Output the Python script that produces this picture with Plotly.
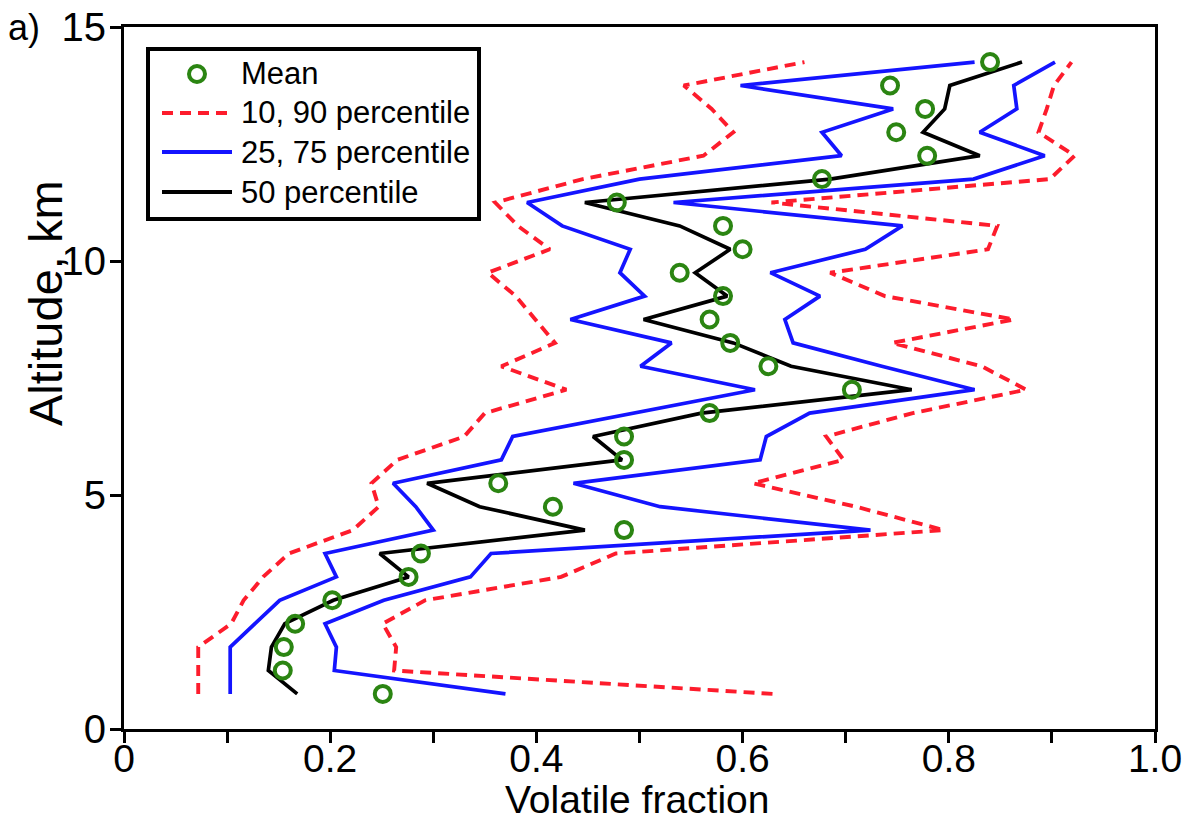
import plotly.graph_objects as go

# ---------------- data ----------------
altitude_km = [0.75, 1.25, 1.75, 2.25, 2.75, 3.25, 3.75, 4.25, 4.75, 5.25,
               5.75, 6.25, 6.75, 7.25, 7.75, 8.25, 8.75, 9.25, 9.75, 10.25,
               10.75, 11.25, 11.75, 12.25, 12.75, 13.25, 13.75, 14.25]

mean_vf = [0.251, 0.154, 0.155, 0.166, 0.202, 0.276, 0.288, 0.485, 0.416, 0.363,
           0.485, 0.485, 0.568, 0.706, 0.625, 0.588, 0.568, 0.581, 0.539, 0.600,
           0.581, 0.478, 0.677, 0.779, 0.749, 0.777, 0.743, 0.840]

p10 = [0.072, 0.072, 0.072, 0.104, 0.116, 0.135, 0.160, 0.222, 0.247, 0.240,
       0.265, 0.330, 0.350, 0.429, 0.366, 0.418, 0.399, 0.380, 0.353, 0.413,
       0.382, 0.360, 0.445, 0.562, 0.591, 0.570, 0.543, 0.660]

p90 = [0.629, 0.262, 0.264, 0.251, 0.292, 0.424, 0.477, 0.795, 0.710, 0.610,
       0.698, 0.681, 0.765, 0.875, 0.832, 0.745, 0.863, 0.738, 0.685, 0.838,
       0.847, 0.628, 0.898, 0.922, 0.887, 0.895, 0.902, 0.919]

p25 = [0.103, 0.103, 0.103, 0.127, 0.151, 0.206, 0.195, 0.300, 0.283, 0.261,
       0.366, 0.377, 0.495, 0.612, 0.501, 0.531, 0.433, 0.505, 0.481, 0.491,
       0.425, 0.391, 0.500, 0.696, 0.677, 0.746, 0.598, 0.825]

p75 = [0.370, 0.204, 0.206, 0.195, 0.252, 0.336, 0.356, 0.724, 0.520, 0.436,
       0.617, 0.623, 0.665, 0.825, 0.735, 0.649, 0.641, 0.675, 0.627, 0.719,
       0.755, 0.533, 0.824, 0.893, 0.830, 0.866, 0.863, 0.903]

p50 = [0.168, 0.140, 0.143, 0.156, 0.203, 0.276, 0.248, 0.447, 0.345, 0.294,
       0.483, 0.455, 0.560, 0.764, 0.647, 0.591, 0.504, 0.585, 0.554, 0.588,
       0.539, 0.447, 0.685, 0.830, 0.775, 0.796, 0.801, 0.871]

x_tick_vals = [0, 0.1, 0.2, 0.3, 0.4, 0.5, 0.6, 0.7, 0.8, 0.9, 1.0]
x_tick_text = ["0", "", "0.2", "", "0.4", "", "0.6", "", "0.8", "", "1.0"]
y_tick_vals = [0, 5, 10, 15]
y_tick_text = ["0", "5", "10", "15"]

legend_labels = ["Mean", "10, 90 percentile", "25, 75 percentile", "50 percentile"]
x_title = "Volatile fraction"
y_title = "Altitude, km"
panel_label = "a)"

# ---------------- styles ----------------
RED = "#fd1c2c"
BLUE = "#1414ff"
BLACK = "#000000"
GREEN = "#2b8512"
FONT = "Liberation Sans, Arial, sans-serif"
DASH = "11px,7px"

W, H = 1192, 822
ML, MR, MT, MB = 124, 37, 27, 93
PW, PH = W - ML - MR, H - MT - MB


def pxx(x):
    return (x - ML) / PW


def pxy(y):
    return (H - MB - y) / PH


fig = go.Figure()

for series in (p10, p90):
    fig.add_trace(go.Scatter(x=series, y=altitude_km, mode="lines",
                             line=dict(color=RED, width=3.9, dash=DASH),
                             showlegend=False, hoverinfo="skip"))
for series in (p25, p75):
    fig.add_trace(go.Scatter(x=series, y=altitude_km, mode="lines",
                             line=dict(color=BLUE, width=3.7),
                             showlegend=False, hoverinfo="skip"))
fig.add_trace(go.Scatter(x=p50, y=altitude_km, mode="lines",
                         line=dict(color=BLACK, width=3.7),
                         showlegend=False, hoverinfo="skip"))
fig.add_trace(go.Scatter(x=mean_vf, y=altitude_km, mode="markers",
                         marker=dict(symbol="circle-open", size=16, color=GREEN,
                                     line=dict(width=4, color=GREEN)),
                         showlegend=False, hoverinfo="skip"))

# ---------------- manual legend ----------------
shapes = []
annotations = []
shapes.append(dict(type="rect", xref="paper", yref="paper",
                   x0=pxx(148), x1=pxx(479), y0=pxy(219), y1=pxy(49),
                   line=dict(color="black", width=4), fillcolor="white", layer="above"))
shapes.append(dict(type="circle", xref="paper", yref="paper",
                   xsizemode="pixel", ysizemode="pixel",
                   xanchor=pxx(197), yanchor=pxy(74),
                   x0=-8, x1=8, y0=-8, y1=8,
                   line=dict(color=GREEN, width=4), layer="above"))
for yy, col, dash in ((113, RED, DASH), (152, BLUE, "solid"), (192, BLACK, "solid")):
    shapes.append(dict(type="line", xref="paper", yref="paper",
                       x0=pxx(162), x1=pxx(232), y0=pxy(yy), y1=pxy(yy),
                       line=dict(color=col, width=4, dash=dash), layer="above"))
for yy, label in zip((74, 113, 152, 192), legend_labels):
    annotations.append(dict(text=label, xref="paper", yref="paper",
                            x=pxx(239), y=pxy(yy), xanchor="left", yanchor="middle",
                            showarrow=False, font=dict(family=FONT, size=31, color="black")))

# axis titles and panel label
annotations.append(dict(text=y_title, xref="paper", yref="paper",
                        x=pxx(45), y=pxy(303), xanchor="center", yanchor="middle",
                        textangle=-90, showarrow=False,
                        font=dict(family=FONT, size=47, color="black")))
annotations.append(dict(text=x_title, xref="paper", yref="paper",
                        x=pxx(637), y=pxy(799), xanchor="center", yanchor="middle",
                        showarrow=False, font=dict(family=FONT, size=39, color="black")))
annotations.append(dict(text=panel_label, xref="paper", yref="paper",
                        x=pxx(6), y=pxy(27), xanchor="left", yanchor="middle",
                        showarrow=False, font=dict(family=FONT, size=36, color="black")))

fig.update_layout(
    width=W, height=H,
    margin=dict(l=ML, r=MR, t=MT, b=MB),
    paper_bgcolor="white", plot_bgcolor="white",
    showlegend=False,
    shapes=shapes, annotations=annotations,
    font=dict(family=FONT, color="black"),
)
fig.update_xaxes(range=[0, 1], tickmode="array", tickvals=x_tick_vals, ticktext=x_tick_text,
                 ticks="outside", ticklen=11, tickwidth=3, tickcolor="black",
                 showline=True, linewidth=3, linecolor="black", mirror=True,
                 showgrid=False, zeroline=False, automargin=False,
                 ticklabelstandoff=-18,
                 tickfont=dict(family=FONT, size=39))
fig.update_yaxes(range=[0, 15], tickmode="array", tickvals=y_tick_vals, ticktext=y_tick_text,
                 ticks="outside", ticklen=11, tickwidth=3, tickcolor="black",
                 showline=True, linewidth=3, linecolor="black", mirror=True,
                 showgrid=False, zeroline=False, automargin=False,
                 ticklabelstandoff=-4,
                 tickfont=dict(family=FONT, size=40))

fig.write_html("out.html")
